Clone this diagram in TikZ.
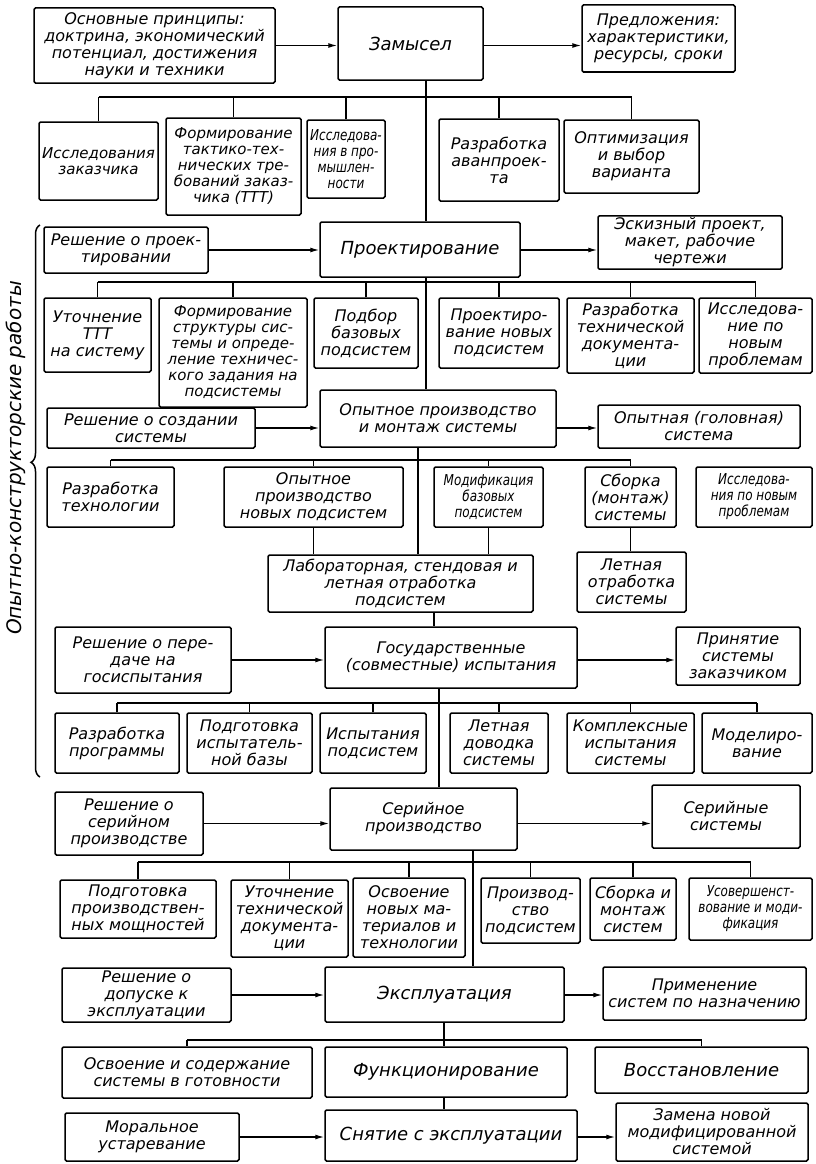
\documentclass[tikz,border=0pt]{standalone}
\usepackage{fontspec}
\setmainfont{DejaVu Sans}
\newfontfamily\narrowfont{DejaVu Sans}[FakeStretch=0.8]
\newcommand{\hand}{\fontsize{16}{17}\selectfont\itshape}
\newcommand{\smallhand}{\fontsize{15}{16}\selectfont\itshape}
\newcommand{\bighand}{\fontsize{18}{20}\selectfont\itshape}
\newcommand{\narrowhand}{\narrowfont\fontsize{15}{16}\selectfont\itshape}
\usetikzlibrary{arrows.meta,decorations.pathreplacing}

\begin{document}
\begin{tikzpicture}[x=1pt,y=-1pt]
        \tikzstyle{plain box}=[draw,line width=1.5pt,rounded corners=1.5pt,align=center,inner sep=2pt,font=\hand]
        \tikzstyle{small box}=[plain box,font=\smallhand]
        \tikzstyle{main box}=[plain box,font=\bighand]
        \tikzstyle{narrow box}=[plain box,font=\narrowhand]
        \tikzstyle{link line}=[line width=1.3pt]
        \tikzstyle{link arrow}=[link line,-{Latex[length=9pt,width=5pt]}]

        \useasboundingbox (0,0) rectangle (815,1164);

        \coordinate (h1) at (0,97);
        \coordinate (h2) at (0,282);
        \coordinate (h3) at (0,460);
        \coordinate (h4) at (0,703);
        \coordinate (h5) at (0,862);
        \coordinate (h6) at (0,1040);
        \coordinate (s1) at (426,0);
        \coordinate (s2) at (418,0);
        \coordinate (s3) at (434,0);
        \coordinate (s4) at (439,0);
        \coordinate (s5) at (473,0);
        \coordinate (s6) at (444,0);

        \node[plain box,minimum width=241pt,minimum height=75pt] (prin) at (154.5,45.5) {Основные принципы:\\доктрина, экономический\\потенциал, достижения\\науки и техники};
        \node[main box,minimum width=145pt,minimum height=73pt] (zam) at (410.5,43.5) {Замысел};
        \node[plain box,minimum width=153pt,minimum height=67pt] (pred) at (658.5,38.5) {Предложения:\\характеристики,\\ресурсы, сроки};

        \node[small box,minimum width=119pt,minimum height=78pt] (izak) at (98.5,161) {Исследования\\заказчика};
        \node[small box,minimum width=135pt,minimum height=97pt] (ftt) at (233.5,166.5) {Формирование\\тактико-тех-\\нических тре-\\бований заказ-\\чика (ТТТ)};
        \node[narrow box,minimum width=78pt,minimum height=78pt] (ipr) at (346,159) {Исследова-\\ния в про-\\мышлен-\\ности};
        \node[plain box,minimum width=120pt,minimum height=82pt] (rav) at (499,160) {Разработка\\аванпроек-\\та};
        \node[plain box,minimum width=135pt,minimum height=73pt] (opt) at (631.5,156.5) {Оптимизация\\и выбор\\варианта};

        \node[plain box,minimum width=164pt,minimum height=46pt] (rpr) at (126,250) {Решение о проек-\\тировании};
        \node[main box,minimum width=200pt,minimum height=55pt] (proj) at (420,249.5) {Проектирование};
        \node[plain box,minimum width=184pt,minimum height=51pt] (esk) at (690,242.5) {Эскизный проект,\\макет, рабочие\\чертежи};

        \node[plain box,minimum width=107pt,minimum height=74pt] (utt) at (97.5,335) {Уточнение\\ТТТ\\на систему};
        \node[small box,minimum width=148pt,minimum height=109pt] (fst) at (233,352.5) {Формирование\\структуры сис-\\темы и опреде-\\ление техничес-\\кого задания на\\подсистемы};
        \node[plain box,minimum width=104pt,minimum height=70pt] (pod) at (366,333) {Подбор\\базовых\\подсистем};
        \node[plain box,minimum width=120pt,minimum height=70pt] (pnp) at (499,333) {Проектиро-\\вание новых\\подсистем};
        \node[plain box,minimum width=127pt,minimum height=75pt] (rtd) at (630.5,335.5) {Разработка\\технической\\документа-\\ции};
        \node[plain box,minimum width=113pt,minimum height=75pt] (inp) at (755.5,335.5) {Исследова-\\ние по\\новым\\проблемам};

        \node[plain box,minimum width=208pt,minimum height=40pt] (rsoz) at (151,428) {Решение о создании\\системы};
        \node[plain box,minimum width=236pt,minimum height=57pt] (opp) at (438,418.5) {Опытное производство\\и монтаж системы};
        \node[plain box,minimum width=202pt,minimum height=43pt] (opg) at (699,426.5) {Опытная (головная)\\система};

        \node[plain box,minimum width=127pt,minimum height=60pt] (rtech) at (110.5,497) {Разработка\\технологии};
        \node[plain box,minimum width=179pt,minimum height=60pt] (opnp) at (313.5,497) {Опытное\\производство\\новых подсистем};
        \node[narrow box,minimum width=109pt,minimum height=60pt] (mod) at (488.5,497) {Модификация\\базовых\\подсистем};
        \node[plain box,minimum width=91pt,minimum height=60pt] (sbor) at (630.5,497) {Сборка\\(монтаж)\\системы};
        \node[narrow box,minimum width=116pt,minimum height=60pt] (inp2) at (754,497) {Исследова-\\ния по новым\\проблемам};

        \node[plain box,minimum width=265pt,minimum height=57pt] (lab) at (400.5,583.5) {Лабораторная, стендовая и\\летная отработка\\подсистем};
        \node[plain box,minimum width=109pt,minimum height=60pt] (leto) at (631.5,582) {Летная\\отработка\\системы};

        \node[plain box,minimum width=176pt,minimum height=66pt] (rpg) at (143,660) {Решение о пере-\\даче на\\госиспытания};
        \node[plain box,minimum width=252pt,minimum height=61pt] (gos) at (451,657.5) {Государственные\\(совместные) испытания};
        \node[plain box,minimum width=124pt,minimum height=58pt] (prz) at (738,656) {Принятие\\системы\\заказчиком};

        \node[plain box,minimum width=124pt,minimum height=60pt] (rprog) at (117,743) {Разработка\\программы};
        \node[plain box,minimum width=125pt,minimum height=60pt] (podg) at (249.5,743) {Подготовка\\испытатель-\\ной базы};
        \node[plain box,minimum width=106pt,minimum height=60pt] (isp) at (373,743) {Испытания\\подсистем};
        \node[plain box,minimum width=98pt,minimum height=60pt] (letd) at (499,743) {Летная\\доводка\\системы};
        \node[plain box,minimum width=127pt,minimum height=60pt] (kompl) at (630.5,743) {Комплексные\\испытания\\системы};
        \node[plain box,minimum width=110pt,minimum height=60pt] (model) at (757,743) {Моделиро-\\вание};

        \node[plain box,minimum width=148pt,minimum height=63pt] (rser) at (129,823.5) {Решение о\\серийном\\производстве};
        \node[plain box,minimum width=187pt,minimum height=62pt] (ser) at (423.5,819) {Серийное\\производство};
        \node[plain box,minimum width=148pt,minimum height=63pt] (sers) at (726,816.5) {Серийные\\системы};

        \node[plain box,minimum width=156pt,minimum height=58pt] (podm) at (138,909) {Подготовка\\производствен-\\ных мощностей};
        \node[plain box,minimum width=117pt,minimum height=77pt] (utd) at (289.5,918.5) {Уточнение\\технической\\документа-\\ции};
        \node[plain box,minimum width=112pt,minimum height=79pt] (osv) at (409,917.5) {Освоение\\новых ма-\\териалов и\\технологии};
        \node[plain box,minimum width=99pt,minimum height=65pt] (proizv) at (530.5,910.5) {Производ-\\ство\\подсистем};
        \node[plain box,minimum width=86pt,minimum height=62pt] (sbm) at (633,909) {Сборка и\\монтаж\\систем};
        \node[narrow box,minimum width=123pt,minimum height=62pt] (usov) at (750.5,909) {Усовершенст-\\вование и моди-\\фикация};

        \node[plain box,minimum width=169pt,minimum height=54pt] (rdop) at (146.5,995) {Решение о\\допуске к\\эксплуатации};
        \node[main box,minimum width=239pt,minimum height=55pt] (expl) at (444.5,994.5) {Эксплуатация};
        \node[plain box,minimum width=203pt,minimum height=53pt] (prim) at (704.5,993.5) {Применение\\систем по назначению};

        \node[plain box,minimum width=250pt,minimum height=51pt] (osvs) at (187,1072.5) {Освоение и содержание\\системы в готовности};
        \node[main box,minimum width=242pt,minimum height=50pt] (funk) at (446,1072) {Функционирование};
        \node[main box,minimum width=213pt,minimum height=46pt] (vost) at (701.5,1070) {Восстановление};

        \node[plain box,minimum width=174pt,minimum height=48pt] (mor) at (152,1137) {Моральное\\устаревание};
        \node[main box,minimum width=252pt,minimum height=51pt] (sny) at (451,1135.5) {Снятие с эксплуатации};
        \node[plain box,minimum width=192pt,minimum height=58pt] (zam2) at (712,1132) {Замена новой\\модифицированной\\системой};

        \node[rotate=90,font=\fontsize{20}{22}\selectfont\itshape] (okr) at (16,458) {Опытно-конструкторские работы};
        \draw[line width=1.5pt,decorate,decoration={brace,amplitude=9pt,aspect=0.57}] (40,777) -- (40,225);

        \draw[link arrow] (prin.east) -- (prin.east -| zam.west);
        \draw[link arrow] (zam.east |- prin.east) -- (pred.west |- prin.east);
        \draw[link line] (zam.south -| s1) -- (proj.north -| s1);
        \draw[link line] (izak.north |- h1) -- (opt.north |- h1);
        \foreach \n in {izak,ftt,ipr,rav,opt}
            \draw[link line] (\n.north) -- (\n.north |- h1);

        \draw[link arrow] (rpr.east) -- (rpr.east -| proj.west);
        \draw[link arrow] (proj.east |- rpr.east) -- (esk.west |- rpr.east);
        \draw[link line] (proj.south -| s1) -- (opp.north -| s1);
        \draw[link line] (utt.north |- h2) -- (inp.north |- h2);
        \foreach \n in {utt,fst,pod,pnp,rtd,inp}
            \draw[link line] (\n.north) -- (\n.north |- h2);

        \draw[link arrow] (rsoz.east) -- (rsoz.east -| opp.west);
        \draw[link arrow] (opp.east |- rsoz.east) -- (opg.west |- rsoz.east);
        \draw[link line] (opp.south -| s2) -- (lab.north -| s2);
        \draw[link line] (rtech.north |- h3) -- (sbor.north |- h3);
        \foreach \n in {rtech,opnp,mod,sbor}
            \draw[link line] (\n.north) -- (\n.north |- h3);
        \draw[link line] (opnp.south) -- (opnp.south |- lab.north);
        \draw[link line] (mod.south) -- (mod.south |- lab.north);
        \draw[link line] (sbor.south) -- (sbor.south |- leto.north);
        \draw[link line] (lab.south -| s3) -- (gos.north -| s3);

        \draw[link arrow] (rpg.east) -- (rpg.east -| gos.west);
        \draw[link arrow] (gos.east |- rpg.east) -- (prz.west |- rpg.east);
        \draw[link line] (gos.south -| s4) -- (ser.north -| s4);
        \draw[link line] (rprog.north |- h4) -- (model.north |- h4);
        \foreach \n in {rprog,podg,isp,letd,kompl,model}
            \draw[link line] (\n.north) -- (\n.north |- h4);

        \draw[link arrow] (rser.east) -- (rser.east -| ser.west);
        \draw[link arrow] (ser.east |- rser.east) -- (sers.west |- rser.east);
        \draw[link line] (ser.south -| s5) -- (expl.north -| s5);
        \draw[link line] (podm.north |- h5) -- (usov.north |- h5);
        \foreach \n in {podm,utd,osv,proizv,sbm,usov}
            \draw[link line] (\n.north) -- (\n.north |- h5);

        \draw[link arrow] (rdop.east) -- (rdop.east -| expl.west);
        \draw[link arrow] (expl.east |- rdop.east) -- (prim.west |- rdop.east);
        \draw[link line] (expl.south -| s6) -- (funk.north -| s6);
        \draw[link line] (osvs.north |- h6) -- (vost.north |- h6);
        \foreach \n in {osvs,vost}
            \draw[link line] (\n.north) -- (\n.north |- h6);
        \draw[link line] (funk.south -| s6) -- (sny.north -| s6);

        \draw[link arrow] (mor.east) -- (mor.east -| sny.west);
        \draw[link arrow] (sny.east |- mor.east) -- (zam2.west |- mor.east);
\end{tikzpicture}
\end{document}
